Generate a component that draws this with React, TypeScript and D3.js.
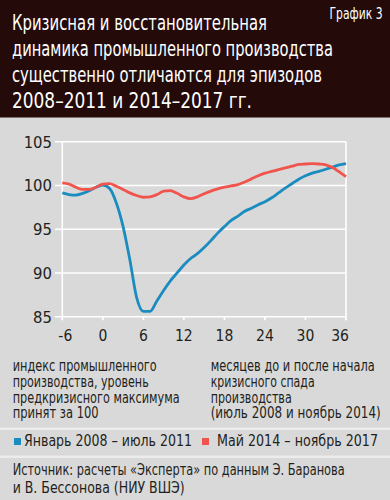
import React from "react";
import * as d3 from "d3";

const months: number[] = d3.range(-6, 37);
const series2008: number[] = [
  99.15, 98.96, 98.9, 99.1, 99.4, 99.8, 100.05, 99.65, 98.0, 95.3, 91.5, 87.2,
  85.6, 85.6, 86.8, 88.0, 89.1, 90.0, 90.9, 91.65, 92.2, 92.9, 93.7, 94.55,
  95.3, 96.0, 96.5, 97.05, 97.4, 97.8, 98.15, 98.6, 99.15, 99.7, 100.2, 100.7,
  101.1, 101.4, 101.6, 101.85, 102.1, 102.35, 102.5,
];
const series2014: number[] = [
  100.3, 100.15, 99.8, 99.55, 99.55, 99.8, 100.15, 100.2, 99.9, 99.55, 99.15,
  98.85, 98.65, 98.7, 98.95, 99.35, 99.4, 99.1, 98.7, 98.5, 98.7, 99.05, 99.35,
  99.6, 99.8, 99.95, 100.1, 100.4, 100.75, 101.1, 101.4, 101.6, 101.8, 102.0,
  102.2, 102.4, 102.45, 102.5, 102.45, 102.35, 102.05, 101.55, 101.0,
];
const xTicks: number[] = [-6, 0, 6, 12, 18, 24, 30, 36];
const yTicks: number[] = [85, 90, 95, 100, 105];

const titleLines: string[] = [
  "Кризисная и восстановительная",
  "динамика промышленного производства",
  "существенно отличаются для эпизодов",
  "2008–2011 и 2014–2017 гг.",
];
const titleWidths: number[] = [255, 321, 310, 240];
const badge = "График 3";
const leftNote: string[] = [
  "индекс промышленного",
  "производства, уровень",
  "предкризисного максимума",
  "принят за 100",
];
const leftNoteWidths: number[] = [144, 136, 167, 86];
const rightNote: string[] = [
  "месяцев до и после начала",
  "кризисного спада",
  "производства",
  "(июль 2008 и ноябрь 2014)",
];
const rightNoteWidths: number[] = [164, 104, 81, 170];
const legendLabels: string[] = ["Январь 2008 – июль 2011", "Май 2014 – ноябрь 2017"];
const legendWidths: number[] = [168, 161];
const sourceLines: string[] = [
  "Источник: расчеты «Эксперта» по данным Э. Баранова",
  "и В. Бессонова (НИУ ВШЭ)",
];
const sourceWidths: number[] = [332, 172];

const FONT = "'Liberation Sans Narrow', 'DejaVu Sans Condensed', 'Roboto', sans-serif";
const BLUE = "#1b8cc0";
const RED = "#f0544c";
const BG = "#d9d9d9";
const HEADER = "#240b09";
const TEXT = "#231f20";

export default function App() {
  const x = d3.scaleLinear().domain([-6, 36]).range([62.3, 346]);
  const y = d3.scaleLinear().domain([85, 105]).range([316.7, 141.7]);

  const line = d3
    .line<number>()
    .x((_, i) => x(months[i]))
    .y((d) => y(d))
    .curve(d3.curveMonotoneX);

  const yTop = y(105);
  const yBot = y(85);

  return (
    <svg
      width={390}
      height={500}
      style={{ position: "absolute", left: 0, top: 0, display: "block" }}
      fontFamily={FONT}
    >
      <rect x={0} y={0} width={390} height={500} fill={BG} />
      <rect x={0} y={0} width={390} height={117.5} fill={HEADER} />
      {titleLines.map((t, i) => (
        <text
          key={t}
          x={12}
          y={30 + i * 26}
          fill="#ffffff"
          fontSize={22}
          textLength={titleWidths[i]}
          lengthAdjust="spacingAndGlyphs"
        >
          {t}
        </text>
      ))}
      <text x={329.5} y={19} fill="#ffffff" fontSize={15} textLength={53} lengthAdjust="spacingAndGlyphs">
        {badge}
      </text>

      {/* gridlines */}
      {yTicks.map((t) => (
        <line key={t} x1={55} x2={346} y1={y(t)} y2={y(t)} stroke="#ffffff" strokeWidth={1.6} />
      ))}
      <line x1={x(-6)} x2={x(-6)} y1={yTop} y2={yBot + 3.5} stroke="#ffffff" strokeWidth={1.6} />
      <line x1={x(36)} x2={x(36)} y1={yTop} y2={yBot + 3.5} stroke="#ffffff" strokeWidth={1.6} />
      {xTicks.map((t) => (
        <line key={t} x1={x(t)} x2={x(t)} y1={yBot} y2={yBot + 3.5} stroke="#ffffff" strokeWidth={1.6} />
      ))}
      {yTicks.map((t) => (
        <text key={t} x={52} y={y(t)} dy="0.36em" textAnchor="end" fontSize={16.5} fill={TEXT}>
          {t}
        </text>
      ))}
      {xTicks.map((t) => (
        <text
          key={t}
          x={x(t) + (t === 36 ? -6 : t === -6 ? 3 : 0)}
          y={340.5}
          textAnchor="middle"
          fontSize={15.5}
          fill={TEXT}
        >
          {t}
        </text>
      ))}

      <path d={line(series2008) || ""} fill="none" stroke={BLUE} strokeWidth={2.8} strokeLinejoin="round" />
      <path d={line(series2014) || ""} fill="none" stroke={RED} strokeWidth={2.8} strokeLinejoin="round" />

      {leftNote.map((t, i) => (
        <text
          key={t}
          x={12.7}
          y={371 + i * 15.8}
          fontSize={15}
          fill={TEXT}
          textLength={leftNoteWidths[i]}
          lengthAdjust="spacingAndGlyphs"
        >
          {t}
        </text>
      ))}
      {rightNote.map((t, i) => (
        <text
          key={t}
          x={210.7}
          y={371 + i * 15.8}
          fontSize={15}
          fill={TEXT}
          textLength={rightNoteWidths[i]}
          lengthAdjust="spacingAndGlyphs"
        >
          {t}
        </text>
      ))}

      <rect x={0} y={427.5} width={390} height={2.5} fill="#ececec" />
      <rect x={14} y={438} width={7} height={7} fill={BLUE} />
      <text x={24} y={445.5} fontSize={15.5} fill={TEXT} textLength={legendWidths[0]} lengthAdjust="spacingAndGlyphs">
        {legendLabels[0]}
      </text>
      <rect x={202} y={438} width={7} height={7} fill={RED} />
      <text x={217} y={445.5} fontSize={15.5} fill={TEXT} textLength={legendWidths[1]} lengthAdjust="spacingAndGlyphs">
        {legendLabels[1]}
      </text>
      <rect x={0} y={455.5} width={390} height={2.5} fill="#ececec" />

      {sourceLines.map((t, i) => (
        <text
          key={t}
          x={12.7}
          y={475 + i * 17.7}
          fontSize={15}
          fill={TEXT}
          textLength={sourceWidths[i]}
          lengthAdjust="spacingAndGlyphs"
        >
          {t}
        </text>
      ))}
    </svg>
  );
}
